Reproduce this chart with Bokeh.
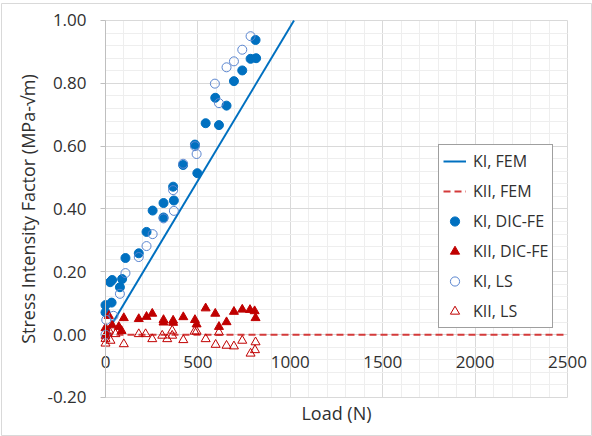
from bokeh.plotting import figure
from bokeh.models import (Range1d, FixedTicker, NumeralTickFormatter, Legend, LegendItem,
                          LinearAxis, Grid)
from bokeh.embed import file_html
from bokeh.resources import INLINE

# ---------------- data ----------------
x_ticks = [0, 500, 1000, 1500, 2000, 2500]
x_minor = [100, 200, 300, 400, 600, 700, 800, 900, 1100, 1200, 1300, 1400, 1600, 1700, 1800, 1900,
           2100, 2200, 2300, 2400]
y_ticks = [-0.2, 0.0, 0.2, 0.4, 0.6, 0.8, 1.0]
y_minor = [-0.16, -0.12, -0.08, -0.04, 0.04, 0.08, 0.12, 0.16, 0.24, 0.28, 0.32, 0.36, 0.44, 0.48,
           0.52, 0.56, 0.64, 0.68, 0.72, 0.76, 0.84, 0.88, 0.92, 0.96]

fem_ki_load = [0, 1020]
fem_ki = [0.0, 1.0]
fem_kii_load = [0, 2500]
fem_kii = [0.0, 0.0]

ki_dic_load = [0, 0, 33, 25, 36, 78, 90, 108, 180, 222, 255, 314, 314, 366, 370, 420, 484, 497,
               542, 594, 614, 655, 695, 740, 785, 815, 812]
ki_dic = [0.071, 0.094, 0.102, 0.167, 0.174, 0.151, 0.177, 0.244, 0.259, 0.327, 0.395, 0.419,
          0.373, 0.471, 0.427, 0.540, 0.605, 0.514, 0.673, 0.754, 0.667, 0.729, 0.807, 0.841,
          0.878, 0.880, 0.938]

kii_dic_load = [0, 0, 9, 18, 36, 72, 87, 99, 180, 222, 253, 314, 314, 366, 366, 421, 484, 493,
                542, 594, 614, 655, 695, 740, 782, 807, 812]
kii_dic = [0.021, -0.003, 0.005, 0.060, 0.030, 0.025, 0.012, 0.053, 0.050, 0.057, 0.067, 0.047,
           0.039, 0.045, 0.038, 0.056, 0.047, 0.033, 0.084, 0.067, 0.025, 0.040, 0.073, 0.080,
           0.079, 0.075, 0.053]

ki_ls_load = [0, 4, 43, 78, 108, 180, 222, 255, 314, 366, 370, 420, 484, 493, 592, 614, 655, 695,
              740, 785]
ki_ls = [0.0, 0.047, 0.060, 0.130, 0.196, 0.247, 0.282, 0.320, 0.370, 0.460, 0.394, 0.544, 0.600,
         0.575, 0.799, 0.737, 0.851, 0.870, 0.907, 0.950]

kii_ls_load = [0, 0, 27, 18, 54, 99, 180, 217, 253, 307, 334, 361, 361, 421, 482, 493, 542, 596,
               614, 655, 695, 740, 812, 809, 785]
kii_ls = [-0.028, -0.013, -0.019, 0.013, 0.002, -0.030, 0.002, 0.002, -0.014, -0.003, -0.014,
          -0.003, 0.013, -0.017, 0.010, 0.010, -0.014, -0.032, 0.007, -0.035, -0.037, -0.019,
          -0.024, -0.049, -0.060]

# ---------------- styles ----------------
FONT = "Open Sans"
TXT = "#303030"
BLUE = "#0070C0"
LBLUE = "#5B86D0"
RED = "#C00000"

X0, X1 = 0, 2500
Y0, Y1 = -0.2, 1.0

# the frame fills the whole chart area; the plot area (0..2500, -0.2..1.0) sits inside it
p = figure(width=592, height=436, output_backend="svg", toolbar_location=None,
           x_axis_type=None, y_axis_type=None,
           x_range=Range1d(-562.8, 2629.9), y_range=Range1d(-0.3210, 1.0541),
           min_border_left=1, min_border_right=1, min_border_top=3, min_border_bottom=1)
p.outline_line_color = "#d9d9d9"
p.background_fill_color = "white"
p.border_fill_color = "white"

# grid limited to the plot area
xg = Grid(dimension=0, ticker=FixedTicker(ticks=x_ticks, minor_ticks=x_minor),
          bounds=(X0, X1), cross_bounds=(Y0, Y1))
yg = Grid(dimension=1, ticker=FixedTicker(ticks=y_ticks, minor_ticks=y_minor),
          bounds=(Y0, Y1), cross_bounds=(X0, X1))
for g in (xg, yg):
    g.grid_line_color = "#d9d9d9"
    g.grid_line_width = 1
    g.minor_grid_line_color = "#eeeeee"
    g.minor_grid_line_width = 1
    p.add_layout(g, "center")

# vertical axis at Load = 0
ya = LinearAxis(fixed_location=0, bounds=(Y0, Y1), ticker=FixedTicker(ticks=y_ticks))
ya.formatter = NumeralTickFormatter(format="0.00")
ya.axis_label = "Stress Intensity Factor (MPa-\u221am)"
ya.axis_label_text_font = FONT
ya.axis_label_text_font_size = "18px"
ya.axis_label_text_font_style = "normal"
ya.axis_label_text_color = TXT
ya.axis_label_standoff = 4
ya.major_label_text_font = FONT
ya.major_label_text_font_size = "17px"
ya.major_label_text_color = TXT
ya.major_label_standoff = 14
ya.axis_line_color = "#bfbfbf"
ya.major_tick_line_color = "#bfbfbf"
ya.major_tick_out = 5
ya.major_tick_in = 0
ya.minor_tick_line_color = None
p.add_layout(ya, "left")

# horizontal axis crossing at K = 0, labels next to it
xa = LinearAxis(fixed_location=0, bounds=(X0, X1), ticker=FixedTicker(ticks=x_ticks))
xa.major_label_text_font = FONT
xa.major_label_text_font_size = "17px"
xa.major_label_text_color = TXT
xa.major_label_standoff = 15
xa.axis_line_color = None
xa.major_tick_line_color = None
xa.minor_tick_line_color = None
p.add_layout(xa, "below")

# axis title at the bottom of the plot area
xt = LinearAxis(fixed_location=Y0, bounds=(X0, X1), ticker=FixedTicker(ticks=[]))
xt.axis_label = "Load (N)"
xt.axis_label_text_font = FONT
xt.axis_label_text_font_size = "18px"
xt.axis_label_text_font_style = "normal"
xt.axis_label_text_color = TXT
xt.axis_label_standoff = 3
xt.major_tick_out = 0
xt.major_tick_in = 0
xt.major_label_standoff = 0
xt.axis_line_color = None
xt.major_tick_line_color = None
xt.minor_tick_line_color = None
p.add_layout(xt, "below")

# series
r1 = p.line(fem_ki_load, fem_ki, line_color=BLUE, line_width=2)
r2 = p.line(fem_kii_load, fem_kii, line_color="#D43A3A", line_width=2, line_dash="7 4")
r3 = p.scatter(ki_dic_load, ki_dic, marker="circle", size=9, fill_color=BLUE, line_color=BLUE)
r4 = p.scatter(kii_dic_load, kii_dic, marker="triangle", size=9, fill_color=RED, line_color=RED)
r5 = p.scatter(ki_ls_load, ki_ls, marker="circle", size=9, fill_color=None, line_color=LBLUE,
               line_width=1)
r6 = p.scatter(kii_ls_load, kii_ls, marker="triangle", size=9, fill_color=None, line_color=RED,
               line_width=1)

legend = Legend(items=[
    LegendItem(label="KI, FEM", renderers=[r1]),
    LegendItem(label="KII, FEM", renderers=[r2]),
    LegendItem(label="KI, DIC-FE", renderers=[r3]),
    LegendItem(label="KII, DIC-FE", renderers=[r4]),
    LegendItem(label="KI, LS", renderers=[r5]),
    LegendItem(label="KII, LS", renderers=[r6]),
], location=(437, 107))
legend.label_text_font = FONT
legend.label_text_font_size = "16px"
legend.label_text_color = TXT
legend.border_line_color = "#404040"
legend.border_line_width = 1
legend.background_fill_color = "white"
legend.background_fill_alpha = 1
legend.padding = 4
legend.margin = 0
legend.spacing = 6
legend.glyph_width = 23
legend.glyph_height = 24
legend.label_height = 24
legend.label_standoff = 7
p.add_layout(legend, "center")

open("out.html", "w").write(file_html(p, INLINE))
